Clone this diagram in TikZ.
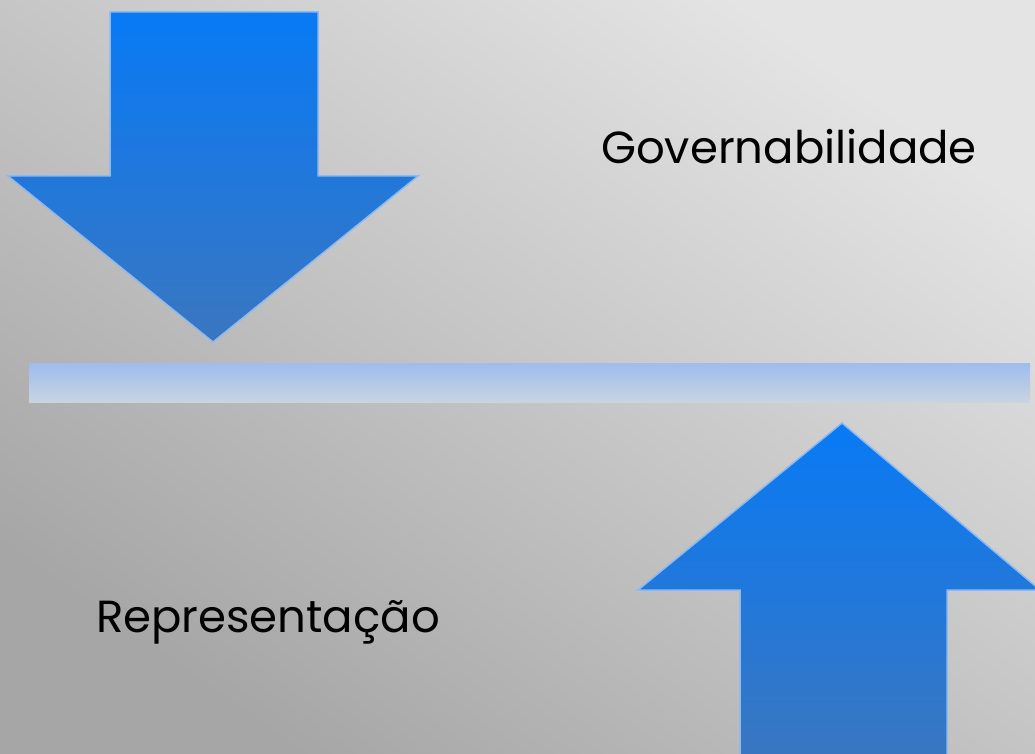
\documentclass[tikz,border=0pt]{standalone}
\usepackage{fontspec}
\setmainfont{Poppins}
\definecolor{bgtop}{RGB}{228,228,228}
\definecolor{bgbot}{RGB}{166,166,166}
\definecolor{arrtop}{RGB}{8,122,245}
\definecolor{arrbot}{RGB}{58,118,192}
\definecolor{arredge}{RGB}{140,185,240}
\definecolor{bartop}{RGB}{158,188,238}
\definecolor{barbot}{RGB}{200,212,226}
\tikzset{
  bluearrow/.style={top color=arrtop, bottom color=arrbot, draw=arredge, line width=1.5pt, line join=miter},
  barstyle/.style={top color=bartop, bottom color=barbot, draw=none},
  label/.style={font=\fontsize{45}{54}\selectfont, text=black, inner sep=0pt}
}
\begin{document}
\begin{tikzpicture}[x=1pt,y=-1pt]
  \useasboundingbox (0,0) rectangle (1035,754);
  \shade[shading=axis, left color=bgtop, right color=bgbot, shading angle=-35] (0,0) rectangle (1035,754);
  % down arrow
  \path[bluearrow] (110,12) -- (318,12) -- (318,176) -- (418,176) -- (213,342) -- (8,176) -- (110,176) -- cycle;
  % up arrow
  \path[bluearrow] (842,423) -- (1040,590) -- (947,590) -- (947,760) -- (740,760) -- (740,590) -- (638,590) -- cycle;
  % bar
  \path[barstyle] (29,363) rectangle (1030,402);
  \node[label] (gov) at (789,147) {Governabilidade};
  \node[label] (rep) at (268,622) {Representação};
\end{tikzpicture}
\end{document}
